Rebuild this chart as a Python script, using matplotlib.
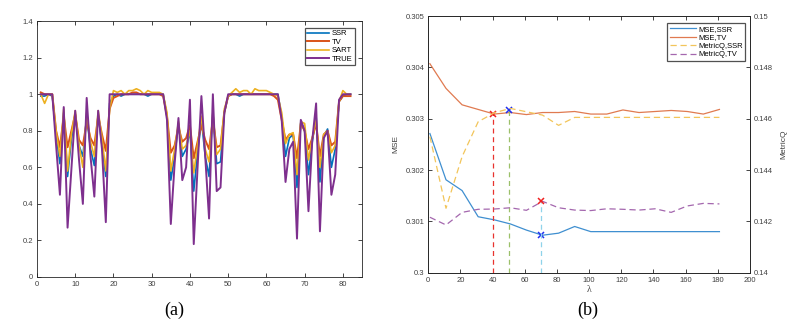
import matplotlib.pyplot as plt

plt.rcParams['font.family'] = ['Liberation Sans', 'DejaVu Sans']

# (a) profiles along the line, x = 1..82
idx = list(range(1, 83))
true_v = [1.0, 1.0, 1.0, 1.0, 0.72, 0.45, 0.93, 0.27, 0.59, 0.91,
          0.64, 0.40, 0.98, 0.66, 0.44, 0.91, 0.70, 0.30, 1.0, 1.0,
          1.0, 1.0, 1.0, 1.0, 1.0, 1.0, 1.0, 1.0, 1.0, 1.0,
          1.0, 1.0, 1.0, 0.86, 0.29, 0.62, 0.87, 0.53, 0.60, 0.97,
          0.18, 0.60, 0.99, 0.66, 0.32, 1.0, 0.47, 0.49, 0.90, 1.0,
          1.0, 1.0, 1.0, 1.0, 1.0, 1.0, 1.0, 1.0, 1.0, 1.0,
          1.0, 1.0, 1.0, 0.86, 0.52, 0.70, 0.74, 0.21, 0.86, 0.80,
          0.36, 0.75, 0.95, 0.25, 0.76, 0.80, 0.45, 0.56, 0.97, 1.0,
          1.0, 1.0]
ssr_v = [0.99, 0.99, 1.0, 0.99, 0.78, 0.62, 0.90, 0.55, 0.75, 0.89,
         0.72, 0.66, 0.88, 0.70, 0.61, 0.89, 0.72, 0.55, 0.95, 0.99,
         1.0, 0.99, 1.0, 1.0, 1.0, 1.0, 1.0, 1.0, 0.99, 1.0,
         1.0, 1.0, 1.0, 0.88, 0.53, 0.66, 0.84, 0.66, 0.70, 0.80,
         0.47, 0.68, 0.86, 0.66, 0.55, 0.90, 0.62, 0.63, 0.90, 0.99,
         1.0, 1.0, 0.99, 1.0, 1.0, 1.0, 1.0, 1.0, 1.0, 1.0,
         1.0, 1.0, 1.0, 0.88, 0.66, 0.76, 0.78, 0.49, 0.85, 0.80,
         0.56, 0.74, 0.88, 0.52, 0.77, 0.81, 0.60, 0.70, 0.96, 0.99,
         1.0, 1.0]
tv_v = [1.01, 1.0, 1.0, 1.0, 0.80, 0.71, 0.88, 0.71, 0.80, 0.89,
        0.75, 0.72, 0.85, 0.76, 0.72, 0.88, 0.78, 0.69, 0.92, 0.98,
        0.99, 1.0, 1.0, 1.0, 1.01, 1.01, 1.0, 1.0, 1.0, 1.0,
        1.0, 1.0, 0.99, 0.88, 0.68, 0.72, 0.82, 0.74, 0.76, 0.83,
        0.65, 0.74, 0.83, 0.75, 0.70, 0.86, 0.71, 0.72, 0.90, 0.99,
        1.0, 1.0, 1.0, 1.0, 1.0, 1.0, 1.0, 1.0, 1.0, 1.0,
        1.0, 0.99, 0.97, 0.86, 0.75, 0.78, 0.78, 0.65, 0.84, 0.80,
        0.70, 0.76, 0.84, 0.66, 0.78, 0.80, 0.72, 0.74, 0.96, 0.99,
        0.99, 0.99]
sart_v = [1.0, 0.95, 1.0, 1.0, 0.80, 0.66, 0.92, 0.58, 0.78, 0.91,
          0.72, 0.60, 0.90, 0.74, 0.66, 0.91, 0.76, 0.58, 0.92, 1.02,
          1.01, 1.02, 1.0, 1.02, 1.02, 1.03, 1.02, 1.0, 1.02, 1.01,
          1.01, 1.01, 1.0, 0.90, 0.58, 0.70, 0.85, 0.70, 0.72, 0.80,
          0.57, 0.72, 0.88, 0.70, 0.63, 0.90, 0.67, 0.70, 0.92, 0.99,
          1.01, 1.03, 1.01, 1.02, 1.02, 1.0, 1.03, 1.02, 1.02, 1.02,
          1.01, 1.0, 0.99, 0.90, 0.73, 0.78, 0.79, 0.56, 0.85, 0.84,
          0.64, 0.76, 0.86, 0.60, 0.78, 0.80, 0.68, 0.72, 0.96, 1.02,
          1.0, 1.0]

# (b) lambda sweep
lam = [1, 11, 21, 31, 41, 51, 61, 71, 81, 91, 101, 111, 121, 131, 141, 151, 161, 171, 181]
mse_ssr = [0.30271, 0.30181, 0.30160, 0.30109, 0.30103, 0.30095, 0.30083, 0.30073,
           0.30077, 0.30090, 0.30080, 0.30080, 0.30080, 0.30080, 0.30080, 0.30080,
           0.30080, 0.30080, 0.30080]
mse_tv = [0.30407, 0.30359, 0.30327, 0.30318, 0.30309, 0.30312, 0.30308, 0.30312,
          0.30312, 0.30314, 0.30309, 0.30309, 0.30317, 0.30312, 0.30314, 0.30316,
          0.30314, 0.30309, 0.30318]
mq_ssr = [0.14530, 0.14251, 0.14452, 0.14588, 0.14623, 0.14640, 0.14627, 0.14614,
          0.14574, 0.14605, 0.14605, 0.14605, 0.14605, 0.14605, 0.14605, 0.14605,
          0.14605, 0.14605, 0.14605]
mq_tv = [0.14216, 0.14186, 0.14235, 0.14247, 0.14248, 0.14253, 0.14243, 0.14278,
         0.14253, 0.14244, 0.14242, 0.14249, 0.14247, 0.14244, 0.14249, 0.14235,
         0.14260, 0.14270, 0.14268]
# picked lambdas (vertical guides) and their marked values
pick_lam = [40, 50, 70]
pick_mse = [0.30309, 0.30317, 0.30073]
pick_mq = 0.14278

c_blue = '#0072BD'
c_org = '#D95319'
c_yel = '#EDB120'
c_pur = '#7E2F8E'
txt = '#404040'

fig = plt.figure(figsize=(7.97, 3.28), dpi=100)

# ---- (a)
ax = fig.add_axes([0.0464, 0.1555, 0.4078, 0.780])
ax.plot(idx, ssr_v, color=c_blue, lw=1.2, label='SSR')
ax.plot(idx, tv_v, color=c_org, lw=1.4, label='TV')
ax.plot(idx, sart_v, color=c_yel, lw=1.2, label='SART')
ax.plot(idx, true_v, color=c_pur, lw=1.4, label='TRUE')
ax.set_xlim(0, 85)
ax.set_ylim(0, 1.4)
ax.set_xticks(range(0, 81, 10))
ax.set_yticks([0, 0.2, 0.4, 0.6, 0.8, 1.0, 1.2, 1.4])
ax.set_yticklabels(['0', '0.2', '0.4', '0.6', '0.8', '1', '1.2', '1.4'])
leg = ax.legend(loc='upper right', fontsize=5.5, fancybox=False, edgecolor='#262626',
                handlelength=2.8, borderpad=0.3, labelspacing=0.15, handletextpad=0.4,
                borderaxespad=0, bbox_to_anchor=(0.978, 0.975))
leg.get_frame().set_linewidth(0.9)
fig.text(0.219, 0.04, '(a)', family='Liberation Serif', fontsize=13, ha='center')

# ---- (b)
bx = fig.add_axes([0.5374, 0.1686, 0.4036, 0.7826])
bx2 = bx.twinx()
h1, = bx.plot(lam, mse_ssr, color='#3f8fd0', lw=0.9, label='MSE,SSR')
h2, = bx.plot(lam, mse_tv, color='#e07a50', lw=0.9, label='MSE,TV')
h3, = bx2.plot(lam, mq_ssr, color='#f2c55a', lw=0.9, ls=(0, (5, 3)), label='MetricQ,SSR')
h4, = bx2.plot(lam, mq_tv, color='#a467ae', lw=0.9, ls=(0, (5, 3)), label='MetricQ,TV')

bx.plot([pick_lam[0], pick_lam[0]], [0.3, pick_mse[0]], color='#e8332e', lw=0.9, ls=(0, (4, 3)))
bx.plot([pick_lam[1], pick_lam[1]], [0.3, pick_mse[1]], color='#9cc06a', lw=0.9, ls=(0, (4, 3)))
bx2.plot([pick_lam[2], pick_lam[2]], [0.14, pick_mq], color='#8fd3ea', lw=0.9, ls=(0, (4, 3)))
bx.plot(pick_lam[0], pick_mse[0], 'x', color='#f02020', ms=4.5, mew=1.1)
bx.plot(pick_lam[1], pick_mse[1], 'x', color='#2030f0', ms=4.5, mew=1.1)
bx.plot(pick_lam[2], pick_mse[2], 'x', color='#2030f0', ms=4.5, mew=1.1)
bx2.plot(pick_lam[2], pick_mq, 'x', color='#f02020', ms=4.5, mew=1.1)

bx.set_xlim(0, 200)
bx.set_ylim(0.3, 0.305)
bx2.set_ylim(0.14, 0.15)
bx.set_xticks(range(0, 201, 20))
bx.set_yticks([0.3, 0.301, 0.302, 0.303, 0.304, 0.305])
bx.set_yticklabels(['0.3', '0.301', '0.302', '0.303', '0.304', '0.305'])
bx2.set_yticks([0.14, 0.142, 0.144, 0.146, 0.148, 0.15])
bx2.set_yticklabels(['0.14', '0.142', '0.144', '0.146', '0.148', '0.15'])
bx.set_xlabel('λ', family='Liberation Serif', fontsize=7, color=txt, labelpad=1)
bx.set_ylabel('MSE', fontsize=6, color=txt, labelpad=4)
bx2.set_ylabel('MetricQ', fontsize=6, color=txt, rotation=90, labelpad=5)
leg2 = bx2.legend([h1, h2, h3, h4], ['MSE,SSR', 'MSE,TV', 'MetricQ,SSR', 'MetricQ,TV'],
                  loc='upper right', fontsize=5.5, fancybox=False, edgecolor='#262626',
                  handlelength=3.4, borderpad=0.3, labelspacing=0.15, handletextpad=0.3,
                  borderaxespad=0, bbox_to_anchor=(0.984, 0.972))
leg2.get_frame().set_linewidth(0.9)
fig.text(0.738, 0.04, '(b)', family='Liberation Serif', fontsize=13, ha='center')

for a in (ax, bx, bx2):
    a.tick_params(direction='in', length=3, width=0.6, labelsize=5.5, labelcolor=txt,
                  color='#262626', pad=3)
    for s in a.spines.values():
        s.set_linewidth(0.6)
        s.set_color('#262626')
ax.tick_params(top=True, right=True)
bx.tick_params(top=True)

fig.savefig('out.png', dpi=100)
